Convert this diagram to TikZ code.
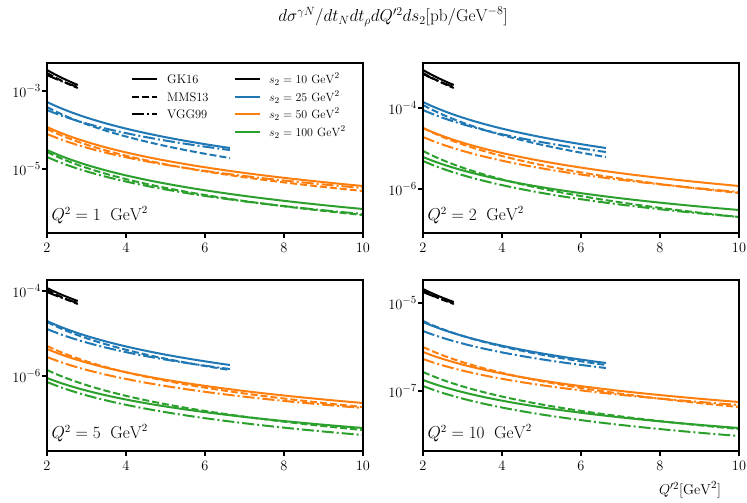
\documentclass[tikz,border=0pt]{standalone}
\usepackage{amsmath}
\definecolor{cA}{HTML}{1F77B4}
\definecolor{cB}{HTML}{FF7F0E}
\definecolor{cC}{HTML}{2CA02C}
\tikzset{
  sol/.style={line width=2bp},
  dsh/.style={line width=2bp,dash pattern=on 7bp off 3bp},
  dd/.style={line width=2bp,dash pattern=on 12bp off 3bp on 2bp off 3bp},
  axbox/.style={line width=1.2bp},
  tl/.style={font=\fontsize{15.5}{17}\selectfont},
  lg/.style={font=\fontsize{12.5}{14}\selectfont,anchor=west,inner sep=1bp},
  pl/.style={font=\fontsize{16}{18}\selectfont,anchor=west}
}
\newcommand\crv[5]{\draw[#1] plot[domain=2:#3,samples=30,smooth] ({#2+(\x-2)*39.5},{#4+(#5-#4)*ln(\x/2)/ln(#3/2)});}
\newcommand\panel[8]{%
  \draw[axbox] (#1,#2) rectangle ({#1+316},#3);
  \foreach \q in {2,4,6,8,10}{
    \draw[axbox] ({#1+(\q-2)*39.5},#3) -- ({#1+(\q-2)*39.5},{#3+5});
    \node[tl] at ({#1+(\q-2)*39.5},{#3+15}) {$\q$};}
  \draw[axbox] (#1,#5) -- ({#1-5},#5);
  \draw[axbox] (#1,#7) -- ({#1-5},#7);
  \node[tl,anchor=east,inner sep=1bp] at ({#1-5},#5) {$10^{#4}$};
  \node[tl,anchor=east,inner sep=1bp] at ({#1-5},#7) {$10^{#6}$};
  \node[pl] at ({#1+1},{#3-18}) {$Q^2=#8\ \ \mathrm{GeV}^2$};
}
\begin{document}
\begin{tikzpicture}[x=1bp,y=-1bp]
\useasboundingbox (0,0) rectangle (747,503);
\node[font=\fontsize{17}{19}\selectfont] (title) at (393,17) {$d\sigma^{\gamma N}/dt_N dt_\rho dQ'^2 ds_2[\mathrm{pb}/\mathrm{GeV}^{-8}]$};
\node[tl] (xlab) at (690,490) {$Q'^2[\mathrm{GeV}^2]$};
\begin{scope}
\clip (47,63) rectangle (363,233);
\crv{sol,black}{47}{2.78}{70}{85}
\crv{dsh,black}{47}{2.78}{73}{88}
\crv{dd,black}{47}{2.78}{75}{87}
\crv{sol,cA}{47}{6.63}{102}{148}
\crv{dsh,cA}{47}{6.63}{107}{158}
\crv{dd,cA}{47}{6.63}{110}{150}
\crv{sol,cB}{47}{10}{127}{186}
\crv{dsh,cB}{47}{10}{129}{191}
\crv{dd,cB}{47}{10}{134}{188}
\crv{sol,cC}{47}{10}{150}{209}
\crv{dsh,cC}{47}{10}{152}{215}
\crv{dd,cC}{47}{10}{157}{214}
\end{scope}
\panel{47}{63}{233}{-3}{91}{-5}{169}{1}
\foreach \s/\t/\yy in {sol/GK16/79,dsh/MMS13/97,dd/VGG99/114}{
  \draw[\s,black] (132,\yy) -- (157,\yy);
  \node[lg] (lg\t) at (166,\yy) {\t};}
\foreach \c/\v/\yy in {black/10/79,cA/25/97,cB/50/114,cC/100/132}{
  \draw[sol,\c] (235,\yy) -- (260,\yy);
  \node[lg] (ls\v) at (268,\yy) {$s_2=\v~\mathrm{GeV}^2$};}
\begin{scope}
\clip (423,63) rectangle (739,233);
\crv{sol,black}{423}{2.78}{70}{85}
\crv{dsh,black}{423}{2.78}{73}{88}
\crv{dd,black}{423}{2.78}{74}{87}
\crv{sol,cA}{423}{6.63}{102}{148}
\crv{dsh,cA}{423}{6.63}{105}{157}
\crv{dd,cA}{423}{6.63}{110}{152}
\crv{sol,cB}{423}{10}{128}{186}
\crv{dsh,cB}{423}{10}{128}{193}
\crv{dd,cB}{423}{10}{137}{192}
\crv{sol,cC}{423}{10}{157}{210}
\crv{dsh,cC}{423}{10}{151}{217}
\crv{dd,cC}{423}{10}{161}{217}
\end{scope}
\panel{423}{63}{233}{-4}{108}{-6}{189}{2}
\begin{scope}
\clip (47,280) rectangle (363,451);
\crv{sol,black}{47}{2.78}{288}{301}
\crv{dsh,black}{47}{2.78}{290}{304}
\crv{dd,black}{47}{2.78}{292}{303}
\crv{sol,cA}{47}{6.63}{321}{365}
\crv{dsh,cA}{47}{6.63}{322}{370}
\crv{dd,cA}{47}{6.63}{329}{369}
\crv{sol,cB}{47}{10}{349}{403}
\crv{dsh,cB}{47}{10}{346}{407}
\crv{dd,cB}{47}{10}{357}{408}
\crv{sol,cC}{47}{10}{378}{428}
\crv{dsh,cC}{47}{10}{370}{430}
\crv{dd,cC}{47}{10}{382}{435}
\end{scope}
\panel{47}{280}{451}{-4}{291}{-6}{376}{5}
\begin{scope}
\clip (423,280) rectangle (739,451);
\crv{sol,black}{423}{2.78}{289}{302}
\crv{dsh,black}{423}{2.78}{291}{304}
\crv{dd,black}{423}{2.78}{292}{303}
\crv{sol,cA}{423}{6.63}{322}{363}
\crv{dsh,cA}{423}{6.63}{321}{365}
\crv{dd,cA}{423}{6.63}{331}{368}
\crv{sol,cB}{423}{10}{352}{402}
\crv{dsh,cB}{423}{10}{347}{407}
\crv{dd,cB}{423}{10}{359}{405}
\crv{sol,cC}{423}{10}{380}{428}
\crv{dsh,cC}{423}{10}{372}{429}
\crv{dd,cC}{423}{10}{386}{436}
\end{scope}
\panel{423}{280}{451}{-5}{303}{-7}{391}{10}
\end{tikzpicture}
\end{document}
